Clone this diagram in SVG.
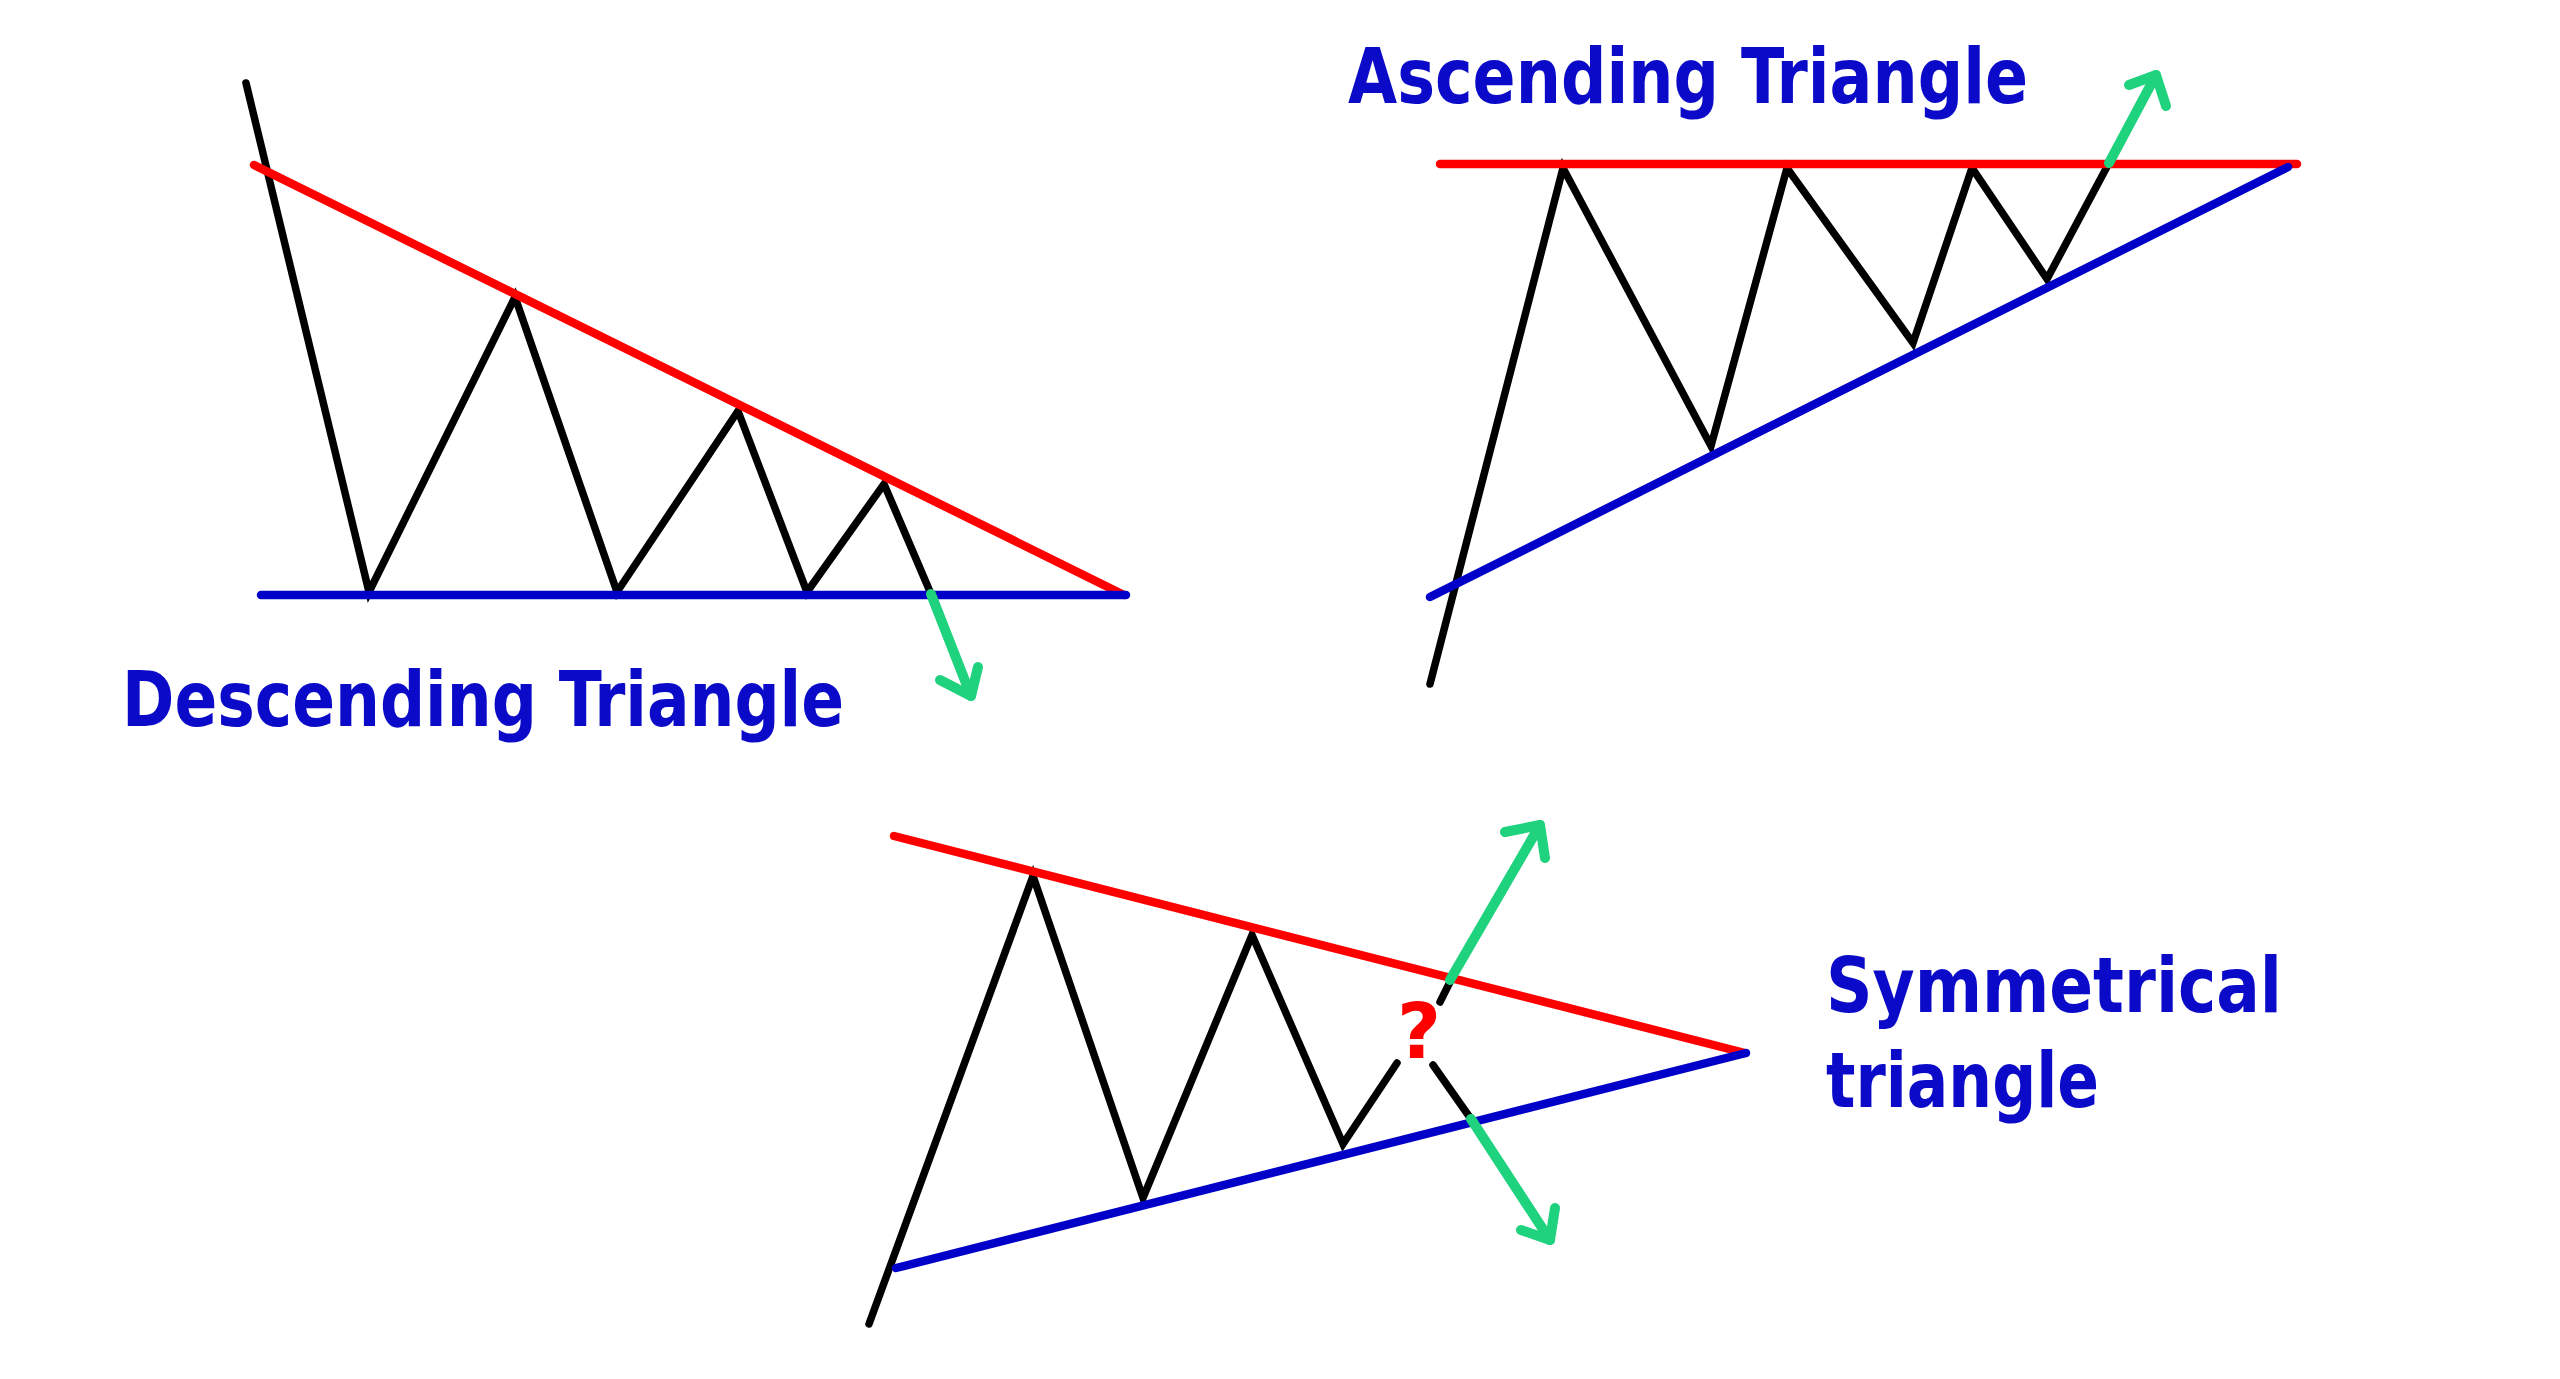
<svg xmlns="http://www.w3.org/2000/svg" width="2560" height="1379" viewBox="0 0 2560 1379">
<style>
.price{fill:none;stroke:#000;stroke-width:7.5;stroke-linecap:round;stroke-linejoin:miter}
.res{fill:none;stroke:#ff0000;stroke-width:8.5;stroke-linecap:round}
.sup{fill:none;stroke:#0000c8;stroke-width:8.5;stroke-linecap:round}
.brk{fill:none;stroke:#1fd27d;stroke-width:10;stroke-linecap:round;stroke-linejoin:round}
.lbl{font-family:"DejaVu Sans Condensed","DejaVu Sans",sans-serif;font-weight:bold;font-size:76px;fill:#0a0ac8}
.q{font-family:"DejaVu Sans","Liberation Sans",sans-serif;font-weight:bold;font-size:76px;fill:#ff0000}
</style>
<rect width="2560" height="1379" fill="#ffffff"/>
<g id="descending">
  <polyline class="price" points="246,83 369,592 515,297 617,592 738,411 807,592 884,484 931,594"/>
  <line class="res" x1="254" y1="165" x2="1124" y2="595"/>
  <line class="sup" x1="261" y1="595" x2="1126" y2="595"/>
  <text class="lbl" x="122" y="726" textLength="722" lengthAdjust="spacingAndGlyphs">Descending Triangle</text>
</g>
<g id="ascending">
  <polyline class="price" points="1430,684 1563,168 1711,446 1787,168 1913,343 1972,168 2047,279 2109,163"/>
  <line class="res" x1="1440" y1="164" x2="2297" y2="164"/>
  <line class="sup" x1="1430" y1="597" x2="2288" y2="167"/>
  <text class="lbl" x="1348" y="103" textLength="680" lengthAdjust="spacingAndGlyphs">Ascending Triangle</text>
</g>
<g id="symmetrical">
  <polyline class="price" points="869,1324 1033,876 1143,1198 1252,935 1343,1144 1397,1063"/>
  <line class="price" x1="1440" y1="1002" x2="1450" y2="982"/>
  <line class="price" x1="1433" y1="1065" x2="1471" y2="1119"/>
  <line class="res" x1="894" y1="836" x2="1745" y2="1053"/>
  <line class="sup" x1="896" y1="1268" x2="1746" y2="1053"/>
  <text class="q" x="1419" y="1058" text-anchor="middle">?</text>
  <text class="lbl" x="1826" y="1012" textLength="456" lengthAdjust="spacingAndGlyphs">Symmetrical</text>
  <text class="lbl" x="1826" y="1107" textLength="273" lengthAdjust="spacingAndGlyphs">triangle</text>
</g>
<g id="connectors">
  <line class="brk" x1="931" y1="594" x2="971" y2="696"/>
  <polyline class="brk" points="940,680 971,696 978,667"/>
  <line class="brk" x1="2109" y1="163" x2="2156" y2="75"/>
  <polyline class="brk" points="2129,85 2156,75 2166,106"/>
  <line class="brk" x1="1450" y1="980" x2="1540" y2="825"/>
  <polyline class="brk" points="1505,832 1540,825 1545,858"/>
  <line class="brk" x1="1471" y1="1119" x2="1550" y2="1240"/>
  <polyline class="brk" points="1521,1230 1550,1240 1555,1208"/>
</g>
</svg>
